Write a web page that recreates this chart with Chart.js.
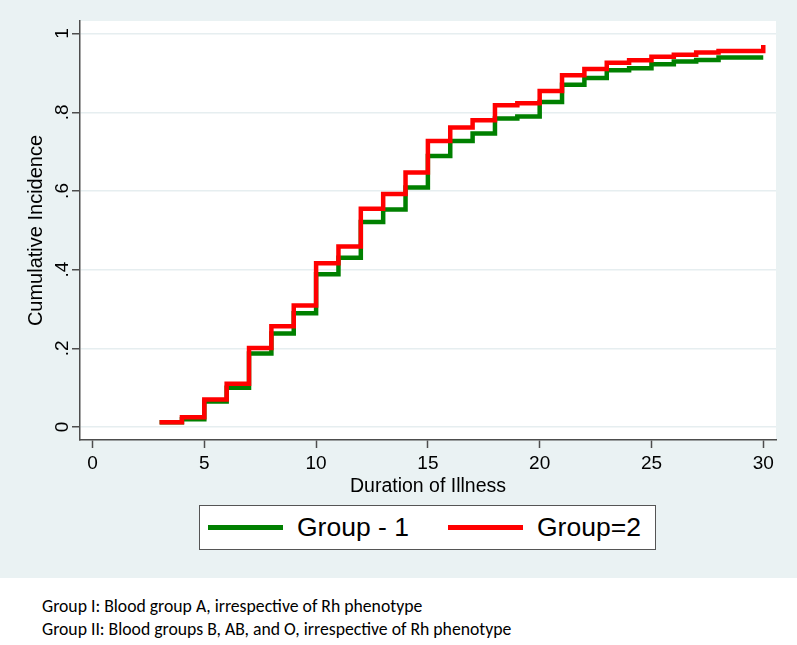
<!DOCTYPE html>
<html>
<head>
<meta charset="utf-8">
<script src="https://cdn.jsdelivr.net/npm/chart.js@4.4.1/dist/chart.umd.min.js"></script>
<style>
    body { margin: 0; width: 797px; height: 645px; overflow: hidden; position: relative; background: #fff; font-family: "Liberation Sans", Arial, sans-serif; }
    .panel { position: absolute; left: 0; top: 0; width: 797px; height: 578px; background: #eaf2f3; }
    #chart { position: absolute; left: 0; top: 0; }
    .legend { position: absolute; left: 199px; top: 505px; width: 455px; height: 43px; border: 1.5px solid #555; background: #fff; }
    .legend-item { position: absolute; top: 0; height: 100%; display: flex; align-items: center; font-size: 26.5px; color: #000; white-space: nowrap; }
    .swatch { display: inline-block; width: 75px; height: 5px; margin-right: 14px; }
    .note { position: absolute; left: 42px; font-family: Carlito, Lato, sans-serif; font-size: 17.7px; color: #000; white-space: nowrap; }
</style>
</head>
<body>
<div class="panel"></div>
<canvas id="chart" width="797" height="578"></canvas>
<div class="legend" id="legend"></div>
<div class="note" style="top: 595px;">Group I: Blood group A, irrespective of Rh phenotype</div>
<div class="note" style="top: 618px;">Group II: Blood groups B, AB, and O, irrespective of Rh phenotype</div>

<script>
// Data (value holds from that day on)
const days = [3, 4, 5, 6, 7, 8, 9, 10, 11, 12, 13, 14, 15, 16, 17, 18, 19, 20, 21, 22, 23, 24, 25, 26, 27, 28, 29, 30];
const group1 = [0.012, 0.020, 0.065, 0.100, 0.187, 0.238, 0.289, 0.388, 0.430, 0.521, 0.553, 0.609, 0.689, 0.727,
    0.746, 0.784, 0.789, 0.826, 0.870, 0.887, 0.907, 0.912, 0.922, 0.929, 0.933, 0.939, 0.939, 0.939];
const group2 = [0.012, 0.025, 0.070, 0.110, 0.201, 0.256, 0.309, 0.416, 0.459, 0.555, 0.592, 0.647, 0.727, 0.761,
    0.780, 0.818, 0.823, 0.854, 0.894, 0.910, 0.926, 0.932, 0.941, 0.946, 0.952, 0.956, 0.956, 0.971];
const seriesNames = ['Group - 1', 'Group=2'];
const seriesColors = ['#008000', '#ff0000'];
const xTicks = [0, 5, 10, 15, 20, 25, 30];
const yTicks = [0, 0.2, 0.4, 0.6, 0.8, 1];
const yTickLabels = ['0', '.2', '.4', '.6', '.8', '1'];

const fontFamily = '"Liberation Sans", Arial, sans-serif';
const axisColor = '#4d4d4d';

const toPoints = vals => days.map((d, i) => ({ x: d, y: vals[i] }));

// White plot region
const plotBg = {
    id: 'plotBg',
    beforeDraw(chart) {
        const { ctx, chartArea: a } = chart;
        ctx.save();
        ctx.fillStyle = '#fff';
        ctx.fillRect(a.left, a.top, a.right - a.left, a.bottom - a.top);
        ctx.restore();
    }
};

// Rotated y tick labels, Stata style
const yLabels = {
    id: 'yLabels',
    afterDraw(chart) {
        const { ctx, scales: { y } } = chart;
        ctx.save();
        ctx.font = '19px ' + fontFamily;
        ctx.fillStyle = '#000';
        ctx.textAlign = 'center';
        ctx.textBaseline = 'middle';
        yTicks.forEach((v, i) => {
            ctx.save();
            ctx.translate(63, y.getPixelForValue(v));
            ctx.rotate(-Math.PI / 2);
            ctx.fillText(yTickLabels[i], 0, 0);
            ctx.restore();
        });
        ctx.restore();
    }
};

const ctx = document.getElementById('chart').getContext('2d');
const chart = new Chart(ctx, {
    type: 'line',
    data: {
        datasets: [
            { label: seriesNames[0], data: toPoints(group1), borderColor: seriesColors[0], borderWidth: 4.5, stepped: 'before', pointRadius: 0, fill: false, order: 1 },
            { label: seriesNames[1], data: toPoints(group2), borderColor: seriesColors[1], borderWidth: 4.5, stepped: 'before', pointRadius: 0, fill: false, order: 0 }
        ]
    },
    options: {
        responsive: false,
        animation: false,
        devicePixelRatio: 1,
        layout: { padding: { top: 21, right: 21, left: 0, bottom: 0 } },
        plugins: { legend: { display: false }, tooltip: { enabled: false } },
        scales: {
            x: {
                type: 'linear',
                min: -0.56,
                max: 30.57,
                afterBuildTicks: s => { s.ticks = xTicks.map(v => ({ value: v })); },
                afterFit: s => { s.height = 138; },
                grid: { color: 'rgba(0,0,0,0)', drawOnChartArea: false, tickColor: axisColor, tickLength: 8, tickWidth: 1.5 },
                border: { color: axisColor, width: 1.5 },
                ticks: { color: '#000', font: { family: fontFamily, size: 19 }, padding: 4, maxRotation: 0, autoSkip: false },
                title: { display: true, text: 'Duration of Illness', color: '#000', font: { family: fontFamily, size: 19.5 }, padding: { top: 0, bottom: 80 } }
            },
            y: {
                type: 'linear',
                min: -0.033,
                max: 1.032,
                afterBuildTicks: s => { s.ticks = yTicks.map(v => ({ value: v })); },
                afterFit: s => { s.width = 80; },
                grid: { color: '#e6eef0', lineWidth: 1.5, tickColor: axisColor, tickLength: 8, tickWidth: 1.5 },
                border: { color: axisColor, width: 1.5 },
                ticks: { display: false },
                title: { display: true, text: 'Cumulative Incidence', color: '#000', font: { family: fontFamily, size: 20 }, padding: { top: 24, bottom: 0 } }
            }
        }
    },
    plugins: [plotBg, yLabels]
});

// Boxed legend below the plot
const legend = document.getElementById('legend');
const legendLeft = [8, 248];
seriesNames.forEach((name, i) => {
    const item = document.createElement('div');
    item.className = 'legend-item';
    item.style.left = legendLeft[i] + 'px';
    item.innerHTML = '<span class="swatch" style="background:' + seriesColors[i] + '"></span>' + name;
    legend.appendChild(item);
});
</script>
</body>
</html>
